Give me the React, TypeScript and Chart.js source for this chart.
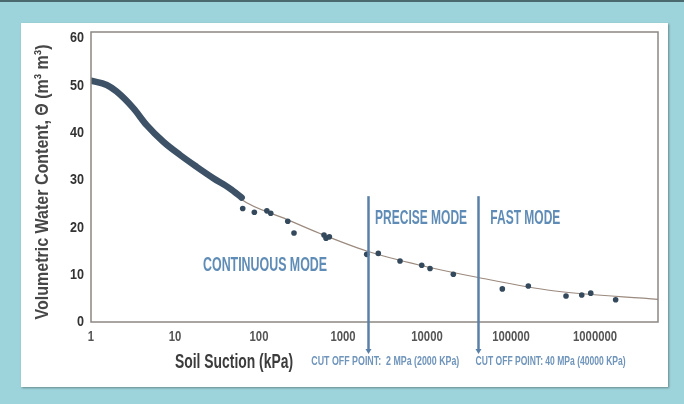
import React, { useEffect, useRef } from "react";
import { Chart, registerables } from "chart.js";

Chart.register(...registerables);

const FONT = "'Liberation Sans', Arial, sans-serif";

// Continuous mode (dense band), suction in kPa, theta in m3/m3 (%)
const continuousSuction = [1, 1.54, 2.02, 3.19, 4.6, 7.26, 11.5, 18.1, 28.6, 45.2, 62.2];
const continuousTheta = [51.0, 50.1, 48.7, 45.2, 41.6, 38.1, 35.3, 32.8, 30.4, 28.2, 26.3];

// Discrete measurements
const discreteSuction = [64, 88, 124, 138, 220, 261, 594, 628, 688, 1915, 2630, 4770, 8650, 10860, 20570, 78800, 160700, 451600, 695000, 889000, 1760000];
const discreteTheta = [24.0, 23.2, 23.5, 23.0, 21.3, 18.8, 18.4, 17.7, 18.0, 14.3, 14.5, 12.9, 12.0, 11.3, 10.1, 7.0, 7.6, 5.5, 5.7, 6.1, 4.7];

// Fitted curve
const fitSuction = [45.2, 59.4, 214, 532, 1915, 8260, 40800, 316000, 5620000];
const fitTheta = [28.2, 26.1, 21.7, 18.7, 15.0, 12.0, 9.4, 6.6, 4.8];

const xTickValues = [1, 10, 100, 1000, 10000, 100000, 1000000];
const yTickValues = [0, 10, 20, 30, 40, 50, 60];

const cutoffSuction = [2000, 40000];
const cutoffTopTheta = 26.6;
const cutoffLabels = ["CUT OFF POINT:  2 MPa (2000 KPa)", "CUT OFF POINT: 40 MPa (40000 KPa)"];

const modeLabels = ["CONTINUOUS MODE", "PRECISE MODE", "FAST MODE"];
const modeSuction = [118, 8500, 148000];
const modeTheta = [12.0, 22.0, 22.0];
const modeWidths = [124, 92, 70];

const X_MIN = 1;
const X_MAX = 5620000;
const Y_MIN = 0;
const Y_MAX = 61.3;

const xTitle = "Soil Suction (kPa)";
const yTitle = "Volumetric Water Content, \u0398 (m\u00b3 m\u00b3)";

const toXY = (xs: number[], ys: number[]) => xs.map((x, i) => ({ x, y: ys[i] }));

function drawText(
  ctx: CanvasRenderingContext2D,
  text: string,
  x: number,
  y: number,
  font: string,
  color: string,
  opts: { width?: number; sx?: number; align?: CanvasTextAlign; rotate?: boolean }
) {
  ctx.save();
  ctx.translate(x, y);
  if (opts.rotate) ctx.rotate(-Math.PI / 2);
  ctx.font = font;
  const w = ctx.measureText(text).width;
  const s = opts.width ? opts.width / w : opts.sx ?? 1;
  ctx.scale(s, 1);
  ctx.fillStyle = color;
  ctx.textAlign = opts.align ?? "center";
  ctx.textBaseline = "middle";
  ctx.fillText(text, 0, 0);
  ctx.restore();
}

const annotationPlugin = {
  id: "annotations",
  afterDatasetsDraw(chart: any) {
    const { ctx, chartArea, scales } = chart;
    const xs = scales.x;
    const ys = scales.y;
    ctx.save();
    // plot frame
    ctx.strokeStyle = "#8c8782";
    ctx.lineWidth = 1.5;
    ctx.strokeRect(chartArea.left, chartArea.top, chartArea.right - chartArea.left, chartArea.bottom - chartArea.top);

    // tick labels (positions from the scales)
    ctx.font = `bold 15px ${FONT}`;
    const xsx = 44 / ctx.measureText("1000000").width;
    xs.ticks.forEach((t: any) => {
      drawText(ctx, String(t.value), xs.getPixelForValue(t.value), chartArea.bottom + 15, `bold 15px ${FONT}`, "#555555", { sx: xsx });
    });
    ctx.font = `bold 15px ${FONT}`;
    const ysx = 14 / ctx.measureText("60").width;
    ys.ticks.forEach((t: any) => {
      drawText(ctx, String(t.value), chartArea.left - 7, ys.getPixelForValue(t.value), `bold 15px ${FONT}`, "#333333", { sx: ysx, align: "right" });
    });

    // cutoff lines with arrows
    const lineColor = "#5a80a8";
    const topY = ys.getPixelForValue(cutoffTopTheta);
    const botY = chartArea.bottom + 31;
    cutoffSuction.forEach((v) => {
      const x = Math.round(xs.getPixelForValue(v)) + 0.5;
      ctx.strokeStyle = lineColor;
      ctx.lineWidth = 2.5;
      ctx.beginPath();
      ctx.moveTo(x, topY);
      ctx.lineTo(x, botY - 3);
      ctx.stroke();
      ctx.fillStyle = lineColor;
      ctx.beginPath();
      ctx.moveTo(x - 3, botY - 4);
      ctx.lineTo(x + 3, botY - 4);
      ctx.lineTo(x, botY + 1);
      ctx.closePath();
      ctx.fill();
    });

    // mode labels
    modeLabels.forEach((t, i) => {
      drawText(ctx, t, xs.getPixelForValue(modeSuction[i]), ys.getPixelForValue(modeTheta[i]), `bold 21px ${FONT}`, "#5f8cb6", { width: modeWidths[i] });
    });

    // cutoff labels
    const labelY = chartArea.bottom + 40;
    const x1 = xs.getPixelForValue(cutoffSuction[0]);
    const x2 = xs.getPixelForValue(cutoffSuction[1]);
    drawText(ctx, cutoffLabels[0], x1 - 57, labelY, `bold 12px ${FONT}`, "#7095bb", { width: 148, align: "left" });
    drawText(ctx, cutoffLabels[1], x2 - 2, labelY, `bold 12px ${FONT}`, "#7095bb", { width: 150, align: "left" });

    // axis titles
    drawText(ctx, xTitle, chartArea.left + 143, labelY, `bold 20px ${FONT}`, "#3c3c3c", { width: 118 });
    drawText(ctx, yTitle, 43, (chartArea.top + chartArea.bottom) / 2 + 5, `bold 19px ${FONT}`, "#474747", { width: 275, rotate: true });
    ctx.restore();
  },
};

export default function App() {
  const canvasRef = useRef<HTMLCanvasElement | null>(null);

  useEffect(() => {
    const canvas = canvasRef.current;
    if (!canvas) return;
    const chart = new Chart(canvas, {
      type: "scatter",
      data: {
        datasets: [
          {
            label: "Discrete",
            data: toXY(discreteSuction, discreteTheta),
            backgroundColor: "#34495c",
            borderWidth: 0,
            pointRadius: 2.8,
            showLine: false,
            order: 0,
          },
          {
            label: "Continuous",
            data: toXY(continuousSuction, continuousTheta),
            borderColor: "#3d5167",
            backgroundColor: "#3d5167",
            borderWidth: 6.5,
            pointRadius: 0,
            showLine: true,
            cubicInterpolationMode: "monotone",
            borderCapStyle: "round",
            order: 1,
          },
          {
            label: "Fit",
            data: toXY(fitSuction, fitTheta),
            borderColor: "#9b8a7e",
            borderWidth: 1.2,
            pointRadius: 0,
            showLine: true,
            cubicInterpolationMode: "monotone",
            order: 2,
          },
        ],
      },
      options: {
        animation: false,
        responsive: false,
        devicePixelRatio: 1,
        layout: { padding: { left: 0, top: 32, right: 26, bottom: 0 } },
        plugins: { legend: { display: false }, tooltip: { enabled: false } },
        scales: {
          x: {
            type: "logarithmic",
            min: X_MIN,
            max: X_MAX,
            afterBuildTicks: (s: any) => {
              s.ticks = xTickValues.map((v) => ({ value: v }));
            },
            afterFit: (s: any) => {
              s.height = 82;
            },
            grid: { display: false, drawTicks: false },
            border: { display: false },
            ticks: { display: false, autoSkip: false, maxRotation: 0 },
          },
          y: {
            type: "linear",
            min: Y_MIN,
            max: Y_MAX,
            afterBuildTicks: (s: any) => {
              s.ticks = yTickValues.map((v) => ({ value: v }));
            },
            afterFit: (s: any) => {
              s.width = 91;
            },
            grid: { display: false, drawTicks: false },
            border: { display: false },
            ticks: { display: false },
          },
        },
      },
      plugins: [annotationPlugin],
    } as any);
    return () => chart.destroy();
  }, []);

  return (
    <div
      style={{
        position: "fixed",
        left: 0,
        top: 0,
        width: 684,
        height: 404,
        background: "#9dd3da",
        borderTop: "2px solid #4a6a70",
        boxSizing: "border-box",
        overflow: "hidden",
      }}
    >
      <div
        style={{
          position: "absolute",
          left: 21,
          top: 21,
          width: 647,
          height: 364,
          background: "#ffffff",
          boxShadow: "1px 1px 2px rgba(0,0,0,0.35)",
        }}
      />
      <canvas
        ref={canvasRef}
        width={684}
        height={404}
        style={{ position: "absolute", left: 0, top: -2, width: 684, height: 404 }}
      />
    </div>
  );
}
